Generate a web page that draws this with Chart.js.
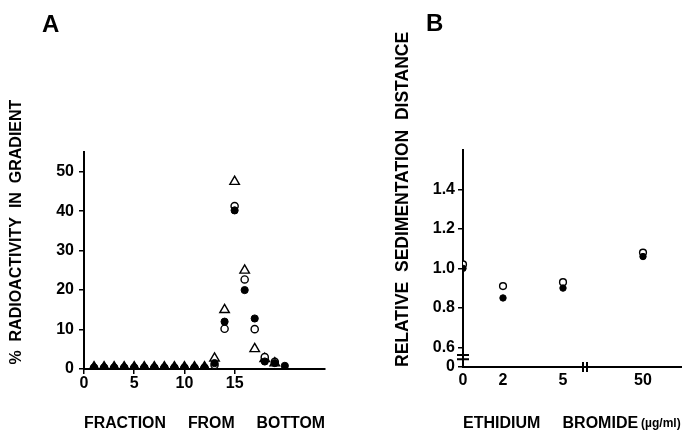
<!DOCTYPE html>
<html><head><meta charset="utf-8">
<script src="https://cdn.jsdelivr.net/npm/chart.js@4/dist/chart.umd.min.js"></script>
<style>
html,body{margin:0;padding:0;background:#fff;}
#wrap{position:relative;width:693px;height:433px;overflow:hidden;background:#fff;}
canvas{position:absolute;top:0;}
#ca{left:0;} #cb{left:345px;}
</style></head><body>
<div id="wrap"><canvas id="ca" width="345" height="433"></canvas><canvas id="cb" width="348" height="433"></canvas></div>
<script>
// ---------- Panel A data ----------
const fractions = [1,2,3,4,5,6,7,8,9,10,11,12,13,14,15,16,17,18,19,20];
const filledA   = [0.3,0.3,0.3,0.3,0.3,0.3,0.3,0.3,0.3,0.3,0.3,0.3,1.5,12,40.2,20,12.8,1.9,1.5,0.8];
const openA     = [0.3,0.3,0.3,0.3,0.3,0.3,0.3,0.3,0.3,0.3,0.3,0.3,1.0,10.2,41.3,22.7,10.1,3.0,1.8,null];
const triA      = [0.5,0.5,0.5,0.5,0.5,0.5,0.5,0.5,0.5,0.5,0.5,0.5,2.7,15,47.5,25,5.1,2.6,1.5,null];
const ticksAY   = [0,10,20,30,40,50];
const ticksAX   = [0,5,10,15];

// ---------- Panel B data ----------
const doses        = ['0','2','5','50'];      // ethidium bromide, ug/ml
const dosePos      = [0,2,5,9];               // position on the broken x axis
const xBreakAt     = 6.1;                     // axis break between 5 and 50
const filledB      = [1.00,0.85,0.90,1.06];
const openB        = [1.02,0.91,0.93,1.08];
const ticksBY      = [0.5,0.6,0.8,1.0,1.2,1.4];
const tickLabelsBY = ['0','0.6','0.8','1.0','1.2','1.4'];
const yBreakAt     = 0.55;

Chart.defaults.font.family = "'Liberation Sans', Arial, sans-serif";
Chart.defaults.font.weight = 'bold';
Chart.defaults.color = '#000';

const FONT = "'Liberation Sans', Arial, sans-serif";

const decor = {
  id: 'decor',
  afterDraw(chart, args, o) {
    const ctx = chart.ctx;
    ctx.save();
    ctx.fillStyle = '#000';
    ctx.strokeStyle = '#000';
    ctx.font = 'bold 24px ' + FONT;
    ctx.textBaseline = 'alphabetic';
    ctx.textAlign = 'left';
    ctx.fillText(o.letter, o.lx, o.ly);
    if (o.breaks) {
      const xs = chart.scales.x, ys = chart.scales.y;
      // y-axis break
      const yb = ys.getPixelForValue(yBreakAt);
      const xa = chart.chartArea.left;
      ctx.lineWidth = 2;
      ctx.beginPath();
      ctx.moveTo(xa - 6, yb - 2.2); ctx.lineTo(xa + 6, yb - 2.2);
      ctx.moveTo(xa - 6, yb + 2.2); ctx.lineTo(xa + 6, yb + 2.2);
      ctx.stroke();
      // x-axis break
      const xb = xs.getPixelForValue(xBreakAt);
      const ya = chart.chartArea.bottom;
      ctx.beginPath();
      ctx.moveTo(xb - 2, ya - 5); ctx.lineTo(xb - 2, ya + 5);
      ctx.moveTo(xb + 2, ya - 5); ctx.lineTo(xb + 2, ya + 5);
      ctx.stroke();
      // unit after x title
      ctx.font = 'bold 16px ' + FONT;
      const main = xs.options.title.text;
      const w = ctx.measureText(main).width;
      ctx.font = 'bold 12px ' + FONT;
      ctx.textBaseline = 'middle';
      ctx.fillText('(\u00b5g/ml)', chart.chartArea.left + w + 3, 424);
    }
    ctx.restore();
  }
};

function axisCommon() {
  return {
    grid: { display: true, drawOnChartArea: false, drawTicks: true, tickLength: 5, color: '#000', lineWidth: 1.5 },
    border: { display: true, color: '#000', width: 2 },
  };
}

// ---------- Chart A ----------
const triFill = ctx => (ctx.raw && ctx.raw.y < 1) ? '#000' : '#fff';
new Chart(document.getElementById('ca'), {
  type: 'scatter',
  data: {
    datasets: [
      { label: 'filled', data: fractions.map((f,i)=>({x:f,y:filledA[i]})), pointStyle: 'circle', pointRadius: 3.6, backgroundColor: '#000', borderColor: '#000', borderWidth: 1 },
      { label: 'open', data: fractions.map((f,i)=>({x:f,y:openA[i]})), pointStyle: 'circle', pointRadius: 3.6, backgroundColor: '#fff', borderColor: '#000', borderWidth: 1.4 },
      { label: 'tri', data: fractions.map((f,i)=>({x:f,y:triA[i]})), pointStyle: 'triangle', pointRadius: 5.5, backgroundColor: triFill, pointBackgroundColor: triFill, borderColor: '#000', borderWidth: 1.4 }
    ]
  },
  options: {
    responsive: false, animation: false, devicePixelRatio: 1,
    layout: { padding: { top: 152, right: 20, left: 0, bottom: 0 } },
    plugins: { legend: { display: false }, tooltip: { enabled: false },
      decor: { letter: 'A', lx: 42, ly: 32 } },
    scales: {
      x: Object.assign(axisCommon(), {
        type: 'linear', min: 0, max: 24,
        afterBuildTicks: s => { s.ticks = ticksAX.map(v => ({ value: v })); },
        afterFit: s => { s.height = 64; },
        ticks: { font: { size: 16, weight: 'bold' }, padding: 0, callback: v => String(v) },
        title: { display: true, text: 'FRACTION     FROM     BOTTOM', font: { size: 16, weight: 'bold' }, padding: { top: 0, bottom: 0 } }
      }),
      y: Object.assign(axisCommon(), {
        type: 'linear', min: 0, max: 55,
        afterBuildTicks: s => { s.ticks = ticksAY.map(v => ({ value: v })); },
        afterFit: s => { s.width = 84; },
        ticks: { font: { size: 16, weight: 'bold' }, padding: 5, callback: v => String(v) },
        title: { display: true, text: ' %  RADIOACTIVITY  IN  GRADIENT', align: 'start', font: { size: 16, weight: 'bold' }, padding: { top: 7, bottom: 0 } }
      })
    }
  },
  plugins: [decor]
});

// ---------- Chart B ----------
new Chart(document.getElementById('cb'), {
  type: 'scatter',
  data: {
    datasets: [
      { label: 'filled', data: dosePos.map((p,i)=>({x:p,y:filledB[i]})), pointStyle: 'circle', pointRadius: 3.2, backgroundColor: '#000', borderColor: '#000', borderWidth: 1 },
      { label: 'open', data: dosePos.map((p,i)=>({x:p,y:openB[i]})), pointStyle: 'circle', pointRadius: 3.4, backgroundColor: '#fff', borderColor: '#000', borderWidth: 1.4 }
    ]
  },
  options: {
    responsive: false, animation: false, devicePixelRatio: 1,
    layout: { padding: { top: 150, right: 12, left: 0, bottom: 0 } },
    plugins: { legend: { display: false }, tooltip: { enabled: false },
      decor: { letter: 'B', lx: 81, ly: 31, breaks: true } },
    scales: {
      x: Object.assign(axisCommon(), {
        type: 'linear', min: 0, max: 10.9,
        grid: { display: true, drawOnChartArea: false, drawTicks: true, tickLength: 4, color: 'rgba(0,0,0,0)', lineWidth: 1 },
        afterBuildTicks: s => { s.ticks = dosePos.map(v => ({ value: v })); },
        afterFit: s => { s.height = 66; },
        ticks: { font: { size: 16, weight: 'bold' }, padding: 0, callback: (v) => doses[dosePos.indexOf(v)] },
        title: { display: true, text: 'ETHIDIUM     BROMIDE', align: 'start', font: { size: 16, weight: 'bold' }, padding: { top: 0, bottom: 0 } }
      }),
      y: Object.assign(axisCommon(), {
        type: 'linear', min: 0.5, max: 1.6,
        afterBuildTicks: s => { s.ticks = ticksBY.map(v => ({ value: v })); },
        afterFit: s => { s.width = 118; },
        ticks: { font: { size: 16, weight: 'bold' }, padding: 3, callback: v => tickLabelsBY[ticksBY.indexOf(v)] },
        title: { display: true, text: 'RELATIVE  SEDIMENTATION  DISTANCE', align: 'start', font: { size: 17.5, weight: 'bold' }, padding: { top: 48, bottom: 0 } }
      })
    }
  },
  plugins: [decor]
});
</script>
</body></html>
